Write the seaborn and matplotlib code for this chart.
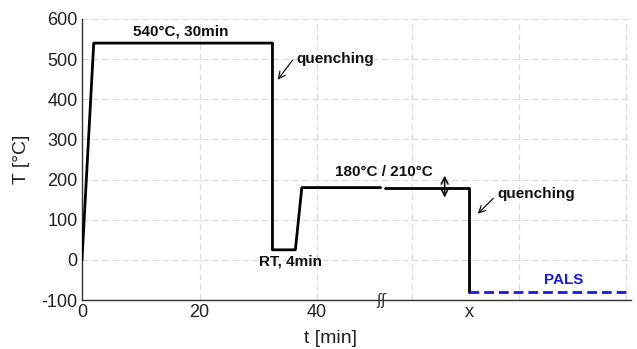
import matplotlib
matplotlib.use("Agg")
import matplotlib.pyplot as plt
import seaborn as sns
import pandas as pd

# ---- data ----
seg1_t = [0, 2, 32.4, 32.4, 36.3, 37.4, 50.8]
seg1_T = [0, 540, 540, 25, 25, 180, 180]
seg2_t = [51.5, 65.9, 65.9]
seg2_T = [180, 180, -80]
pals_t = [65.9, 93.0]
pals_T = [-80, -80]

grid_x = [0, 20, 40, 56.1, 74.4, 92.5]
grid_x_labels = ["0", "20", "40", "", "", ""]
x_mark_pos = 65.9
y_ticks = [-100, 0, 100, 200, 300, 400, 500, 600]

sns.set_theme(style="white")
plt.rcParams["font.family"] = ["Liberation Sans", "DejaVu Sans"]

fig = plt.figure(figsize=(6.37, 3.49), dpi=100)
ax = fig.add_axes([0.1287, 0.1404, 0.8619, 0.8052])

df1 = pd.DataFrame({"t": seg1_t, "T": seg1_T})
df2 = pd.DataFrame({"t": seg2_t, "T": seg2_T})
df3 = pd.DataFrame({"t": pals_t, "T": pals_T})
common = dict(x="t", y="T", sort=False, estimator=None, errorbar=None, ax=ax, zorder=3)
sns.lineplot(data=df1, color="black", lw=2.0, **common)
sns.lineplot(data=df2, color="black", lw=2.0, **common)
sns.lineplot(data=df3, color="#1a1adc", lw=2.0, linestyle=(0, (3.5, 1.8)), **common)

ax.set_xlim(0, 93.4)
ax.set_ylim(-100, 600)
ax.set_xticks(grid_x)
ax.set_xticklabels(grid_x_labels)
ax.set_xticks([x_mark_pos], minor=True)
ax.set_xticklabels(["x"], minor=True)
ax.set_yticks(y_ticks)
ax.set_yticklabels([str(v) for v in y_ticks])
ax.tick_params(axis="both", which="both", direction="in", length=3, width=0.8,
               labelsize=13, colors="#222222", pad=3)
ax.tick_params(axis="x", which="minor", length=0, pad=3)
ax.grid(True, which="major", color="#dcdcdc", linestyle=(0, (5, 3)), lw=0.9)
for s in ["top", "right"]:
    ax.spines[s].set_visible(False)
for s in ["left", "bottom"]:
    ax.spines[s].set_color("#333333")
    ax.spines[s].set_linewidth(1.0)

ax.set_xlabel("t [min]", fontsize=14, color="#222222")
ax.set_ylabel("T [°C]", fontsize=14, color="#222222")
ax.xaxis.set_label_coords(0.452, -0.105)
ax.yaxis.set_label_coords(-0.095, 0.5)

bold = dict(fontsize=11, fontweight="bold", color="#111111")
ax.text(16.8, 568, "540°C, 30min", ha="center", va="center", **bold)
ax.text(36.4, 500, "quenching", ha="left", va="center", **bold)
ax.annotate("", xy=(33.0, 443), xytext=(36.1, 503),
            arrowprops=dict(arrowstyle="->", color="#111111", lw=0.9))
ax.text(35.4, -5, "RT, 4min", ha="center", va="center", **bold)
ax.text(51.4, 218, "180°C / 210°C", ha="center", va="center", **bold)
ax.annotate("", xy=(61.7, 148), xytext=(61.7, 217),
            arrowprops=dict(arrowstyle="<->", color="#111111", lw=1.2))
ax.text(70.6, 163, "quenching", ha="left", va="center", **bold)
ax.annotate("", xy=(67.0, 110), xytext=(70.3, 158),
            arrowprops=dict(arrowstyle="->", color="#111111", lw=0.9))
ax.text(81.9, -50, "PALS", ha="center", va="center", fontsize=11,
        fontweight="bold", color="#1a1adc")
ax.text(51.0, -100, "ʃʃ", ha="center", va="center", fontsize=11,
        family="DejaVu Sans", color="#333333", clip_on=False)

fig.savefig("out.png", dpi=100)
